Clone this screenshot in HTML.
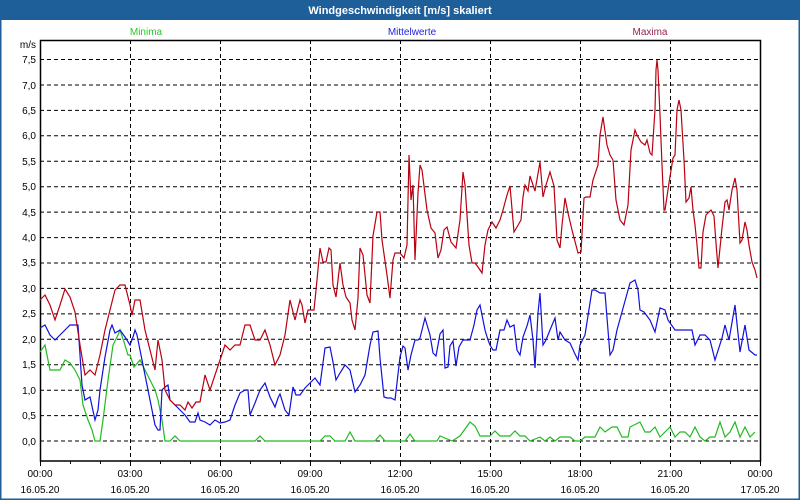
<!DOCTYPE html>
<html><head><meta charset="utf-8"><style>
html,body{margin:0;padding:0;background:#fff}
svg{display:block}
text{font-family:"Liberation Sans","DejaVu Sans",sans-serif}
</style></head><body>
<svg width="800" height="500" xmlns="http://www.w3.org/2000/svg">
<rect x="0" y="0" width="800" height="500" fill="#fff"/>
<rect x="0" y="0" width="800" height="20" fill="#1e5f99"/>
<rect x="0.5" y="0.5" width="799" height="499" fill="none" stroke="#1e5f99" stroke-width="2"/>
<text x="400" y="14" fill="#fff" font-size="11" font-weight="bold" text-anchor="middle">Windgeschwindigkeit [m/s] skaliert</text>
<text x="146" y="35" fill="#22cc22" font-size="10" text-anchor="middle">Minima</text>
<text x="412" y="35" fill="#2222dd" font-size="10" text-anchor="middle">Mittelwerte</text>
<text x="650" y="35" fill="#992255" font-size="10" text-anchor="middle">Maxima</text>
<text x="36" y="48" font-size="10" text-anchor="end">m/s</text>
<g stroke="#000" stroke-dasharray="4,3" stroke-width="1">
<line x1="40" x2="760" y1="59.5" y2="59.5"/><line x1="40" x2="760" y1="85" y2="85"/><line x1="40" x2="760" y1="110.4" y2="110.4"/><line x1="40" x2="760" y1="135.8" y2="135.8"/><line x1="40" x2="760" y1="161.3" y2="161.3"/><line x1="40" x2="760" y1="186.7" y2="186.7"/><line x1="40" x2="760" y1="212.1" y2="212.1"/><line x1="40" x2="760" y1="237.6" y2="237.6"/><line x1="40" x2="760" y1="263" y2="263"/><line x1="40" x2="760" y1="288.4" y2="288.4"/><line x1="40" x2="760" y1="313.9" y2="313.9"/><line x1="40" x2="760" y1="339.3" y2="339.3"/><line x1="40" x2="760" y1="364.7" y2="364.7"/><line x1="40" x2="760" y1="390.2" y2="390.2"/><line x1="40" x2="760" y1="415.6" y2="415.6"/><line x1="40" x2="760" y1="441" y2="441"/>
<line x1="130.5" x2="130.5" y1="40" y2="461"/><line x1="220.5" x2="220.5" y1="40" y2="461"/><line x1="310.5" x2="310.5" y1="40" y2="461"/><line x1="400.5" x2="400.5" y1="40" y2="461"/><line x1="490.5" x2="490.5" y1="40" y2="461"/><line x1="580.5" x2="580.5" y1="40" y2="461"/><line x1="670.5" x2="670.5" y1="40" y2="461"/>
</g>
<g font-size="10" text-anchor="end">
<text x="36" y="63">7,5</text><text x="36" y="89">7,0</text><text x="36" y="114">6,5</text><text x="36" y="139">6,0</text><text x="36" y="165">5,5</text><text x="36" y="190">5,0</text><text x="36" y="216">4,5</text><text x="36" y="241">4,0</text><text x="36" y="266">3,5</text><text x="36" y="292">3,0</text><text x="36" y="317">2,5</text><text x="36" y="343">2,0</text><text x="36" y="368">1,5</text><text x="36" y="394">1,0</text><text x="36" y="419">0,5</text><text x="36" y="445">0,0</text>
</g>
<g font-size="10" text-anchor="middle">
<text x="40" y="477">00:00</text><text x="130" y="477">03:00</text><text x="220" y="477">06:00</text><text x="310" y="477">09:00</text><text x="400" y="477">12:00</text><text x="490" y="477">15:00</text><text x="580" y="477">18:00</text><text x="670" y="477">21:00</text><text x="760" y="477">00:00</text>
<text x="40" y="493">16.05.20</text><text x="130" y="493">16.05.20</text><text x="220" y="493">16.05.20</text><text x="310" y="493">16.05.20</text><text x="400" y="493">16.05.20</text><text x="490" y="493">16.05.20</text><text x="580" y="493">16.05.20</text><text x="670" y="493">16.05.20</text><text x="760" y="493">17.05.20</text>
</g>
<g stroke="#000" stroke-width="1">
<path d="M40.5 461v5M70.5 461v3M100.5 461v3M130.5 461v5M160.5 461v3M190.5 461v3M220.5 461v5M250.5 461v3M280.5 461v3M310.5 461v5M340.5 461v3M370.5 461v3M400.5 461v5M430.5 461v3M460.5 461v3M490.5 461v5M520.5 461v3M550.5 461v3M580.5 461v5M610.5 461v3M640.5 461v3M670.5 461v5M700.5 461v3M730.5 461v3M760.5 461v5"/>
</g>
<rect x="40.5" y="40.5" width="720" height="420.5" fill="none" stroke="#000" stroke-width="1.5"/>
<g fill="none" stroke-width="1.2">
<polyline stroke="#22bb22" points="40,352 45,345 50,370 55,370 60,370 65,360 70,363 75,370 80,380 83,405 88,420 92,430 95,441 100,441 103,420 108,380 113,345 118,335 120,330 124,342 128,355 130,355 134,367 140,360 145,370 150,380 155,390 158,400 162,420 165,441 170,441 175,436 180,441 255,441 260,436 265,441 320,441 325,436 330,436 335,441 345,441 350,432 355,441 375,441 380,435 385,441 405,441 410,434 415,441 437,441 440,436 452,441 460,436 470,422 475,426 480,436 490,436 495,431 500,436 510,436 515,431 520,436 525,436 530,441 540,437 545,441 550,437 555,441 560,437 570,437 575,441 580,441 585,437 595,437 600,427 605,432 612,427 617,427 622,437 628,437 630,427 640,422 645,432 650,432 655,427 660,437 670,427 675,437 680,432 685,432 690,437 695,427 700,437 705,441 710,437 715,437 720,422 725,437 730,432 735,422 740,437 745,427 750,437 755,432"/>
<polyline stroke="#1111dd" points="40,328 45,325 50,335 55,340 60,335 65,330 70,325 75,325 78,325 82,385 85,400 90,397 95,420 98,410 100,390 105,357 110,330 112,325 115,333 120,330 125,337 130,345 133,337 135,330 137,335 140,350 145,375 150,400 155,425 158,430 160,430 162,390 165,387 168,385 170,400 175,405 180,410 185,415 190,422 195,422 198,413 200,420 205,422 210,425 215,420 220,423 225,422 230,420 235,405 240,393 245,390 248,390 250,415 255,403 260,390 265,383 270,397 275,407 278,398 280,394 285,410 289,415 293,387 296,395 300,395 305,388 310,383 315,378 320,385 325,348 330,347 333,362 336,380 340,373 345,365 350,370 355,392 360,385 365,375 370,345 373,332 378,331 380,358 384,397 387,398 391,398 395,400 400,357 403,346 405,348 408,370 411,355 415,340 418,340 420,338 425,318 430,335 433,353 436,356 440,334 443,330 445,368 448,367 450,346 453,341 456,366 459,347 463,340 470,340 474,325 477,310 480,305 485,330 488,340 490,345 493,350 496,350 500,330 504,330 507,320 510,327 514,325 517,350 520,355 523,337 527,326 530,315 533,340 535,368 538,313 540,293 543,345 546,340 550,330 555,318 558,340 560,332 565,340 570,343 575,354 578,360 580,345 585,335 592,290 595,290 600,293 605,293 610,355 613,350 617,330 630,283 635,280 638,290 640,310 644,312 650,320 655,332 660,308 665,310 668,320 675,330 692,330 695,345 700,335 705,335 710,340 715,360 722,338 725,325 729,340 735,305 740,352 745,325 749,350 755,355 757,355"/>
<polyline stroke="#bb0011" points="40,300 45,295 50,305 55,320 60,305 65,289 70,297 75,312 80,345 85,375 90,370 95,375 100,355 105,330 110,310 115,290 120,285 125,285 130,305 132,315 135,300 140,300 145,330 150,350 155,370 158,340 162,360 165,390 170,400 175,405 180,405 185,410 188,402 192,408 196,402 200,402 205,375 210,390 215,375 220,360 225,345 230,350 235,345 240,345 245,325 250,325 255,340 260,340 265,330 270,345 275,365 280,355 285,335 290,300 295,320 300,300 302,305 305,323 308,310 314,310 317,280 320,248 323,262 326,262 329,248 331,250 333,285 336,297 340,263 343,285 346,297 350,303 352,320 355,330 358,298 360,248 363,255 367,295 370,303 373,236 377,212 380,212 382,240 387,275 390,298 393,260 395,253 400,253 404,258 407,245 409,155 411,200 413,185 415,260 418,193 420,165 422,170 427,210 431,228 435,233 438,258 441,250 444,230 447,227 451,242 456,248 460,220 463,172 465,185 469,245 472,263 475,263 478,267 482,273 485,245 488,230 492,222 496,228 500,220 503,210 507,195 510,186 514,232 517,227 521,220 523,197 525,185 528,191 530,176 532,182 535,191 540,162 543,197 546,185 550,172 554,186 557,240 560,248 562,225 565,198 568,213 572,230 578,253 581,252 584,198 586,197 590,197 593,180 598,165 600,135 603,117 607,145 610,155 613,160 616,200 620,220 624,225 628,205 631,150 635,130 637,135 641,142 645,145 647,140 650,153 652,155 655,110 656,70 657,60 658,70 660,115 662,165 664,210 665,210 669,183 673,158 675,155 677,110 679,100 681,110 684,160 686,202 689,198 691,187 693,210 695,225 697,245 699,268 701,268 703,232 706,215 711,210 714,216 716,243 718,268 722,228 725,202 727,200 729,210 732,190 735,178 737,190 740,243 742,240 745,222 747,230 749,245 752,262 755,270 757,278"/>
</g>
</svg>
</body></html>
